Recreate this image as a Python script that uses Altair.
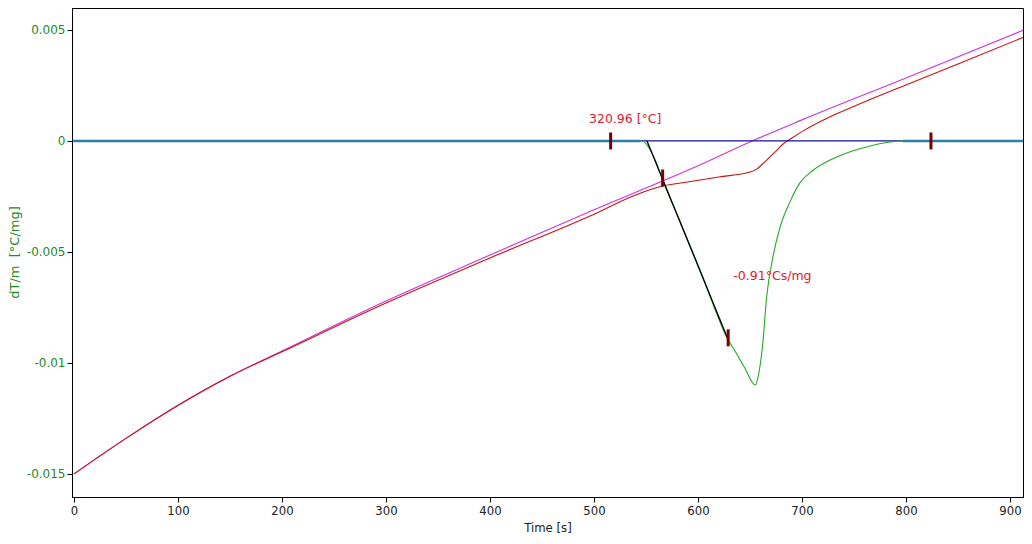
import altair as alt
import pandas as pd

# ---------------- data ----------------
# DTA signal (green)
dta_t = [0, 300, 540, 546, 550, 554, 559, 566, 583, 602, 629, 636, 645, 655,
         659, 662, 666, 672, 679, 688, 698, 711, 727, 743, 762, 785, 797, 916]
dta_y = [0, 0, 0, 0, -0.00012, -0.00040, -0.00088, -0.00176, -0.00365, -0.00581,
         -0.00896, -0.00950, -0.01023, -0.01099, -0.01032, -0.00928, -0.00703,
         -0.00523, -0.00387, -0.00279, -0.00189, -0.00131, -0.00086, -0.00054,
         -0.00027, -0.00005, 0, 0]

# magenta line
mag_t = [0, 50, 100, 150, 200, 300, 400, 500, 600, 652, 700, 800, 916]
mag_y = [-0.0150, -0.0134, -0.0119, -0.0106, -0.00946, -0.00721, -0.00514,
         -0.00310, -0.00112, 0.0, 0.00095, 0.00284, 0.00505]

# red line
red_t = [0, 50, 100, 150, 200, 300, 400, 500, 540, 566, 590, 620, 650, 656,
         666, 674, 683, 686, 700, 720, 740, 765, 800, 850, 916]
red_y = [-0.0150, -0.0134, -0.01192, -0.0106, -0.00950, -0.00730, -0.00527,
         -0.00330, -0.00243, -0.00203, -0.00185, -0.00162, -0.00140, -0.00128,
         -0.00086, -0.00050, -0.00009, 0.0, 0.00042, 0.00093, 0.00136, 0.00186,
         0.00252, 0.00347, 0.00473]

# zero line and baseline segments
zero_t = [-2, 916]
zero_y = [0, 0]
base_seg = ["a", "a", "b", "b"]
base_t = [0, 544, 797, 916]
base_y = [0, 0, 0, 0]

# tangent line
tan_t = [551, 629]
tan_y = [0, -0.00896]

# markers
mark_t = [516, 566, 629, 824]
mark_y = [0, -0.00167, -0.00887, 0]

# annotations
ann_text = ["320.96 [°C]", "-0.91°Cs/mg"]
ann_t = [530, 634]
ann_y = [0.00097, -0.00608]

x_ticks = [0, 100, 200, 300, 400, 500, 600, 700, 800, 900]
y_ticks = [0.005, 0, -0.005, -0.01, -0.015]

# ---------------- chart ----------------
xs = alt.Scale(domain=[-1.9, 912.5], nice=False, zero=False)
ys = alt.Scale(domain=[-0.01604, 0.00599], nice=False, zero=False)

X_AXIS = alt.Axis(values=x_ticks, title="Time [s]", grid=False,
                  labelFont="DejaVu Sans Condensed", labelFontSize=13,
                  labelColor="#222222", titleFont="DejaVu Sans Condensed",
                  titleFontSize=13, titleFontWeight="normal", titleColor="#222222",
                  tickSize=5, tickColor="#000000", domainColor="#000000",
                  labelPadding=2, titlePadding=4, labelFlush=False)
Y_AXIS = alt.Axis(values=y_ticks, title="dT/m\u00a0 [°C/mg]", grid=False,
                  labelExpr="toString(datum.value)",
                  labelFont="DejaVu Sans", labelFontSize=12,
                  labelColor="#1f8a1f", titleFont="DejaVu Sans",
                  titleFontSize=13, titleFontWeight="normal", titleColor="#1f8a1f",
                  titleX=-58, titleY=244, titleAlign="center",
                  titleBaseline="middle", titleAngle=270,
                  tickSize=5, tickColor="#000000", domainColor="#000000",
                  labelPadding=2, labelFlush=False)

X = lambda: alt.X("t:Q", scale=xs, axis=X_AXIS)
Y = lambda: alt.Y("y:Q", scale=ys, axis=Y_AXIS)


def line_layer(t, y, color, width, interp="linear"):
    df = pd.DataFrame({"t": t, "y": y})
    return alt.Chart(df).mark_line(color=color, strokeWidth=width, clip=True,
                                   interpolate=interp).encode(x=X(), y=Y())


magenta = line_layer(mag_t, mag_y, "#cc33dd", 1.1, "monotone")
red = line_layer(red_t, red_y, "#cc1111", 1.1, "monotone")
zero = line_layer(zero_t, zero_y, "#10109a", 1.2)
green = line_layer(dta_t, dta_y, "#22aa22", 1.1, "monotone")

base_df = pd.DataFrame({"t": base_t, "y": base_y, "seg": base_seg})
base = alt.Chart(base_df).mark_line(color="#2a80a2", strokeWidth=2.5, clip=True).encode(
    x=X(), y=Y(), detail="seg:N")

tangent = line_layer(tan_t, tan_y, "#000000", 1.3)

mk_df = pd.DataFrame({"t": mark_t, "y": mark_y})
markers = alt.Chart(mk_df).mark_tick(color="#7a0000", orient="vertical",
                                     size=17, thickness=3, opacity=1).encode(
    x=X(), y=Y())

ann_df = pd.DataFrame({"text": ann_text, "t": ann_t, "y": ann_y})
ann1 = alt.Chart(ann_df.iloc[[0]]).mark_text(
    color="#e0202a", font="DejaVu Sans", fontSize=12.5, align="center",
    baseline="middle").encode(x=X(), y=Y(), text="text:N")
ann2 = alt.Chart(ann_df.iloc[[1]]).mark_text(
    color="#e0202a", font="DejaVu Sans", fontSize=12.5, align="left",
    baseline="middle").encode(x=X(), y=Y(), text="text:N")

chart = alt.layer(magenta, red, zero, green, base, tangent, markers, ann1, ann2).properties(
    width=951, height=489,
    background="white",
    autosize=alt.AutoSizeParams(type="none"),
    padding={"left": 64, "top": 0, "right": 1, "bottom": 39},
).configure_view(stroke="#000000", strokeWidth=1)

chart.save("out.html", embed_options={"renderer": "svg", "actions": False})
